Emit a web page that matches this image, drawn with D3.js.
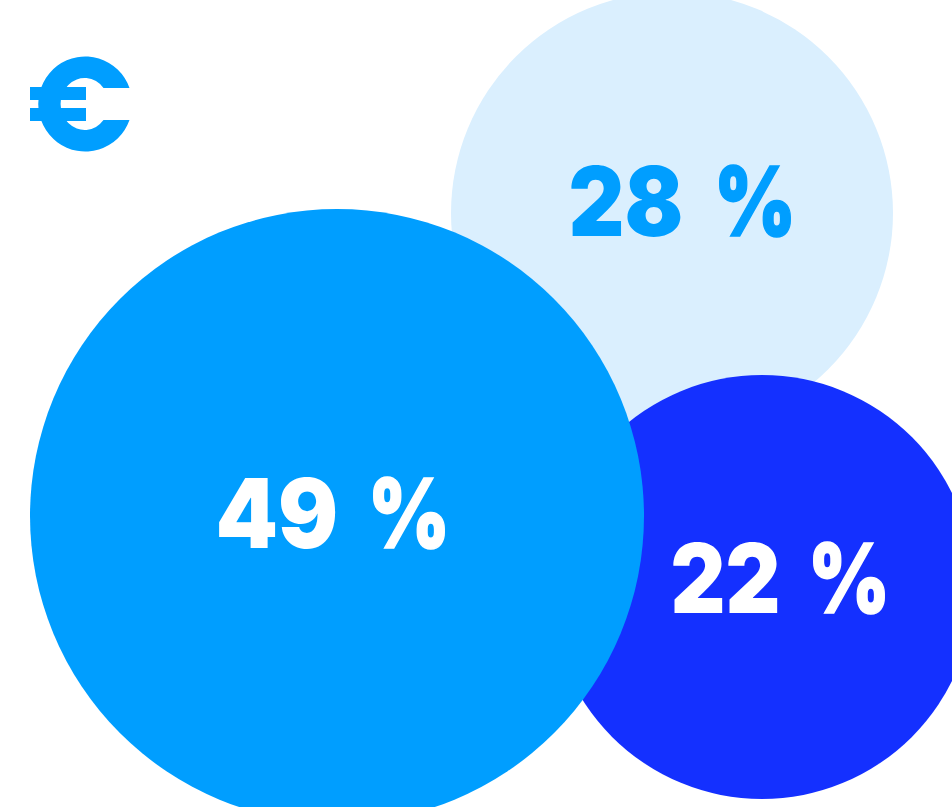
<!DOCTYPE html>
<html><head><meta charset="utf-8">
<script src="https://cdn.jsdelivr.net/npm/d3@7"></script>
<style>html,body{margin:0;padding:0;background:#fff;overflow:hidden}svg{display:block}</style>
</head><body><svg id="chart" width="952" height="807"></svg>
<script>
const shares = [28, 22, 49];
const unit = "%";
const fills = ["#daeffe", "#1430ff", "#009eff"];
const textFills = ["#009eff", "#ffffff", "#ffffff"];
const centerX = [672, 762, 337];
const centerY = [213, 587, 516];
const labelLeft = [568.5, 670.5, 215.5];
const labelBase = [236, 613, 548];
const numberWidth = [132, 127, 140.5];
const unitLeft = [714, 808, 368];
const unitWidth = 82;
const radiusDomain = [22, 28, 49];
const radiusRange = [212, 221, 307];

const svg = d3.select("#chart");
// Bubble radius grows with the share, stepping through the three sizes in use.
const radius = d3.scaleLinear().domain(radiusDomain).range(radiusRange);
const g = svg.selectAll("g.bubble").data(shares).join("g").attr("class","bubble");
g.append("circle")
 .attr("cx",(d,i)=>centerX[i]).attr("cy",(d,i)=>centerY[i])
 .attr("r",d=>radius(d)).attr("fill",(d,i)=>fills[i]);

const label = g.append("text")
 .attr("y",(d,i)=>labelBase[i])
 .attr("font-family","Inter, sans-serif").attr("font-weight",900)
 .attr("font-size",96).attr("fill",(d,i)=>textFills[i]);
label.append("tspan")
 .attr("x",(d,i)=>labelLeft[i])
 .attr("textLength",(d,i)=>numberWidth[i]).attr("lengthAdjust","spacingAndGlyphs")
 .text(d=>d + " ");
label.append("tspan")
 .attr("x",(d,i)=>unitLeft[i])
 .attr("textLength",unitWidth).attr("lengthAdjust","spacingAndGlyphs")
 .attr("stroke",(d,i)=>textFills[i]).attr("stroke-width",1.5)
 .text(unit);

// Euro icon: an open ring with two crossbars.
const icon = svg.append("g").attr("fill","#009eff");
icon.append("path").attr("d",
  "M129.5 88 A47 47.5 0 1 0 129.5 120 L103.5 120 A24 26 0 1 1 103.5 88 Z");
icon.append("rect").attr("x",30).attr("y",87).attr("width",56).attr("height",13);
icon.append("rect").attr("x",30).attr("y",108).attr("width",56).attr("height",13);
</script></body></html>
